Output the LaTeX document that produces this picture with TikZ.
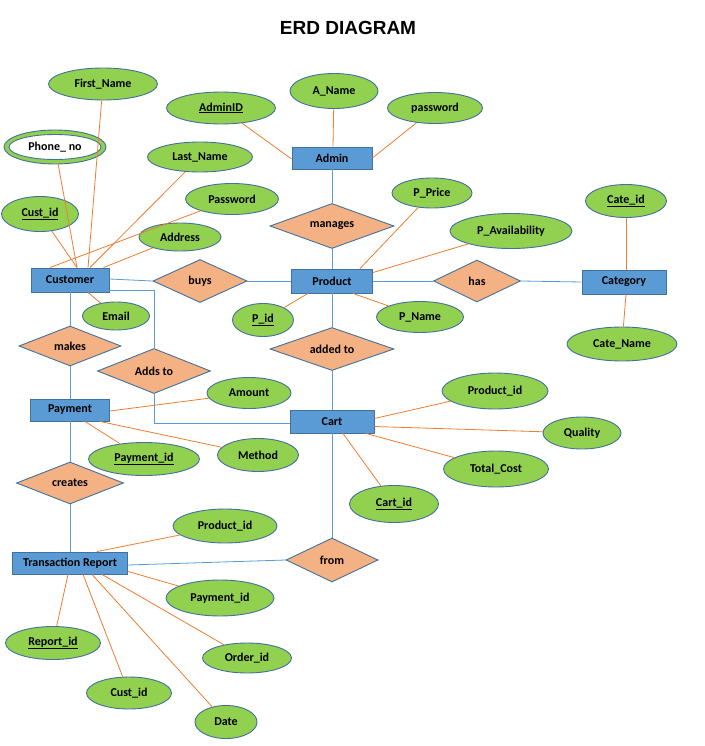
\documentclass[tikz,border=0pt]{standalone}
\usepackage{fontspec}
\setmainfont{Carlito}
\newfontfamily\titlefont{Liberation Sans}
\usetikzlibrary{shapes.geometric,calc}
\definecolor{entfill}{HTML}{5B9BD5}
\definecolor{bord}{HTML}{41719C}
\definecolor{relfill}{HTML}{F4B183}
\definecolor{attfill}{HTML}{92D050}
\definecolor{orl}{HTML}{ED7D31}
\definecolor{bll}{HTML}{5B9BD5}
\tikzset{
  lbl/.style={font=\bfseries\fontsize{12}{14}\selectfont, text=black},
  ent/.style={lbl, rectangle, fill=entfill, draw=bord, line width=0.9pt, inner sep=0pt},
  rel/.style={lbl, diamond, aspect=2.7, fill=relfill, draw=bord, line width=0.9pt, inner sep=0pt},
  att/.style={lbl, ellipse, fill=attfill, draw=bord, line width=0.9pt, inner sep=0pt},
  al/.style={draw=orl, line width=0.8pt},
  rl/.style={draw=bll, line width=0.8pt},
}
\begin{document}
\begin{tikzpicture}[x=1pt,y=-1pt]
\useasboundingbox[fill=white] (0,0) rectangle (704,746);
\node[font=\titlefont\bfseries\fontsize{19}{22}\selectfont] (title) at (348,28) {ERD DIAGRAM};

% entities
\node[ent, minimum width=78pt, minimum height=24pt] (cust) at (70,280) {Customer};
\node[ent, minimum width=80pt, minimum height=22pt] (admin) at (332,158) {Admin};
\node[ent, minimum width=81pt, minimum height=24pt] (prod) at (332,281) {Product};
\node[ent, minimum width=84pt, minimum height=24pt] (cat) at (624,282) {Category};
\node[ent, minimum width=79pt, minimum height=22pt] (pay) at (70,410) {Payment};
\node[ent, minimum width=84pt, minimum height=23pt] (cart) at (332,421.5) {Cart};
\node[ent, minimum width=115pt, minimum height=22pt] (tr) at (70,563) {Transaction Report};

% relationships
\node[rel, minimum width=94pt, minimum height=43pt] (buys) at (200,281) {buys};
\node[rel, minimum width=124pt, minimum height=45pt] (manages) at (332,226) {manages};
\node[rel, minimum width=87pt, minimum height=42pt] (has) at (477,281) {has};
\node[rel, minimum width=102pt, minimum height=40pt] (makes) at (70,346) {makes};
\node[rel, minimum width=113pt, minimum height=45pt] (addsto) at (154,371) {Adds to};
\node[rel, minimum width=124pt, minimum height=43pt] (addedto) at (332,349) {added to};
\node[rel, minimum width=107pt, minimum height=42pt] (creates) at (70,483) {creates};
\node[rel, minimum width=92pt, minimum height=44pt] (from) at (332,560) {from};

% attributes
\node[att, minimum width=109pt, minimum height=32pt] (fname) at (103,84) {First\_Name};
\node[att, minimum width=109pt, minimum height=32pt] (adminid) at (221,108) {\underline{AdminID}};
\node[att, minimum width=102pt, minimum height=34pt] (phone) at (55,147) {};
\node[lbl, ellipse, fill=white, draw=bord, line width=0.9pt, inner sep=0pt, minimum width=92pt, minimum height=25pt] (phonein) at (phone.center) {Phone\_ no};
\node[att, minimum width=105pt, minimum height=30pt] (lname) at (200,157) {Last\_Name};
\node[att, minimum width=93pt, minimum height=31pt] (pwd) at (232,199) {Password};
\node[att, minimum width=77pt, minimum height=35pt] (custid) at (40,214) {\underline{Cust\_id}};
\node[att, minimum width=82pt, minimum height=28pt] (addr) at (180,237) {Address};
\node[att, minimum width=88pt, minimum height=35pt] (aname) at (334,91) {A\_Name};
\node[att, minimum width=95pt, minimum height=31pt] (apwd) at (435,108) {password};
\node[att, minimum width=80pt, minimum height=30pt] (pprice) at (432,193) {P\_Price};
\node[att, minimum width=122pt, minimum height=35pt] (pavail) at (511,231) {P\_Availability};
\node[att, minimum width=81pt, minimum height=33pt] (cateid) at (626,201) {\underline{Cate\_id}};
\node[att, minimum width=67pt, minimum height=28pt] (email) at (116,316) {Email};
\node[att, minimum width=61pt, minimum height=33pt] (pid) at (263,320) {\underline{P\_id}};
\node[att, minimum width=87pt, minimum height=31pt] (pname) at (420,317) {P\_Name};
\node[att, minimum width=110pt, minimum height=34pt] (catename) at (622,344) {Cate\_Name};
\node[att, minimum width=84pt, minimum height=31pt] (amount) at (249,393) {Amount};
\node[att, minimum width=111pt, minimum height=33pt] (payid) at (144,459) {\underline{Payment\_id}};
\node[att, minimum width=81pt, minimum height=33pt] (method) at (258,455) {Method};
\node[att, minimum width=106pt, minimum height=36pt] (cprod) at (495,391) {Product\_id};
\node[att, minimum width=78pt, minimum height=32pt] (quality) at (582,433) {Quality};
\node[att, minimum width=105pt, minimum height=36pt] (total) at (496,469) {Total\_Cost};
\node[att, minimum width=89pt, minimum height=37pt] (cartid) at (394,504) {\underline{Cart\_id}};
\node[att, minimum width=104pt, minimum height=34pt] (tprod) at (225,526) {Product\_id};
\node[att, minimum width=108pt, minimum height=36pt] (tpay) at (220,598) {Payment\_id};
\node[att, minimum width=95pt, minimum height=33pt] (repid) at (53,643) {\underline{Report\_id}};
\node[att, minimum width=89pt, minimum height=30pt] (order) at (247,658) {Order\_id};
\node[att, minimum width=85pt, minimum height=32pt] (tcust) at (129,693) {Cust\_id};
\node[att, minimum width=62pt, minimum height=33pt] (date) at (226,722) {Date};

% relationship connectors
\draw[rl] ($(cust.east)+(0,-1)$) -- (buys.west);
\draw[rl] (buys.east) -- (prod.west);
\draw[rl] ($(cust.south east)+(0,-2)$) -| (addsto.north);
\draw[rl] (addsto.south) |- ($(cart.west)+(0,2)$);
\draw[rl] (cust.south) -- (makes.north);
\draw[rl] (makes.south) -- (pay.north);
\draw[rl] (admin.south) -- (manages.north);
\draw[rl] (manages.south) -- (prod.north);
\draw[rl] (prod.east) -- (has.west);
\draw[rl] (has.east) -- (cat.west);
\draw[rl] (prod.south) -- (addedto.north);
\draw[rl] (addedto.south) -- (cart.north);
\draw[rl] (pay.south) -- (creates.north);
\draw[rl] (creates.south) -- (tr.north);
\draw[rl] (cart.south) -- (from.north);
\draw[rl] (from.west) -- ($(tr.east)+(0,2)$);

% attribute connectors
\draw[al] (fname) -- ($(cust.north)+(18,0)$);
\draw[al] (phone) -- ($(cust.north)+(7,0)$);
\draw[al] (custid) -- ($(cust.north)+(7,0)$);
\draw[al] (lname) -- ($(cust.north)+(20,0)$);
\draw[al] (pwd) -- ($(cust.north)+(-20,0)$);
\draw[al] (addr) -- ($(cust.north east)+(-6,0)$);
\draw[al] (email) -- ($(cust.south)+(18,0)$);
\draw[al] (adminid) -- ($(admin.west)+(0,1)$);
\draw[al] (aname) -- ($(admin.north)+(1,0)$);
\draw[al] (apwd) -- (admin.east);
\draw[al] (pprice) -- ($(prod.north)+(28,0)$);
\draw[al] (pavail) -- ($(prod.north east)+(0,4)$);
\draw[al] (pid) -- ($(prod.south)+(-24,0)$);
\draw[al] (pname) -- ($(prod.south)+(21,0)$);
\draw[al] (cateid) -- ($(cat.north)+(2,0)$);
\draw[al] (catename) -- ($(cat.south)+(2,0)$);
\draw[al] (amount) -- ($(pay.east)+(0,1)$);
\draw[al] (payid) -- ($(pay.south)+(15,0)$);
\draw[al] (method) -- ($(pay.south)+(30,0)$);
\draw[al] (cprod) -- ($(cart.east)+(0,-3)$);
\draw[al] (quality) -- ($(cart.east)+(0,5)$);
\draw[al] (total) -- ($(cart.south)+(34,0)$);
\draw[al] (cartid) -- ($(cart.south)+(11,0)$);
\draw[al] (tprod) -- ($(tr.north)+(27,0)$);
\draw[al] (tpay) -- ($(tr.south east)+(0,-3)$);
\draw[al] (repid) -- ($(tr.south)+(-2,0)$);
\draw[al] (tcust) -- ($(tr.south)+(13,0)$);
\draw[al] (date) -- ($(tr.south)+(22,0)$);
\draw[al] (order) -- ($(tr.south)+(32,0)$);
\end{tikzpicture}
\end{document}
